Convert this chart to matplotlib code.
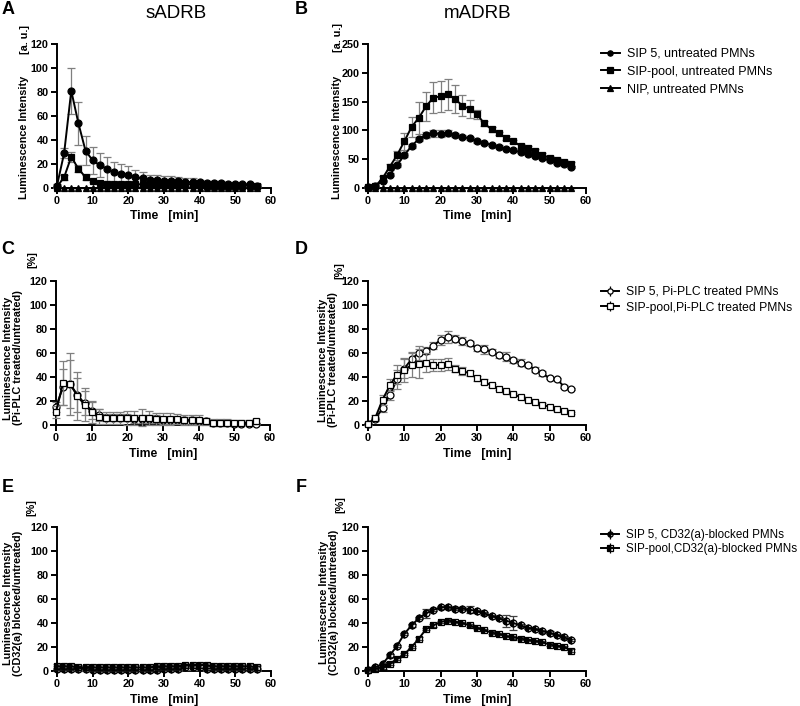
import numpy as np
import matplotlib
matplotlib.use("Agg")
import matplotlib.pyplot as plt
from matplotlib.lines import Line2D
from matplotlib.legend_handler import HandlerTuple

REG = ['Liberation Sans', 'DejaVu Sans']
plt.rcParams['font.family'] = REG

time = [0, 2, 4, 6, 8, 10, 12, 14, 16, 18, 20, 22, 24, 26, 28, 30, 32, 34, 36, 38, 40, 42, 44, 46, 48, 50, 52, 54, 56]

# Panel A (sADRB, untreated)
a_sip5 = [2, 29, 81, 54, 31, 23, 19, 16, 13, 12, 11, 9, 8, 7, 7, 6, 6, 6, 5, 5, 5, 4, 4, 4, 3, 3, 3, 3, 2]
a_sip5_err = [1, 4, 19, 18, 12, 11, 10, 10, 9, 8, 7, 6, 5, 4, 4, 4, 4, 3, 3, 3, 2, 2, 2, 2, 1, 1, 1, 1, 1]
a_pool = [1, 9, 26, 16, 9, 6, 4, 3, 3, 3, 3, 3, 3, 3, 3, 3, 3, 3, 3, 3, 3, 2, 2, 2, 2, 2, 2, 2, 2]
a_pool_err = [0.5, 2, 4, 3, 2, 1, 1, 1, 1, 1, 1, 1, 1, 1, 1, 1, 1, 1, 1, 1, 1, 1, 1, 1, 1, 1, 1, 1, 1]
a_nip = [0] * 29

# Panel B (mADRB, untreated)
b_sip5 = [2, 3, 12, 23, 40, 57, 73, 85, 92, 95, 94, 96, 92, 89, 86, 81, 78, 75, 72, 68, 66, 62, 59, 56, 52, 48, 44, 41, 37]
b_sip5_err = [1, 1, 2, 3, 3, 4, 4, 4, 5, 6, 6, 5, 4, 3, 3, 3, 2, 2, 2, 2, 2, 2, 2, 2, 2, 2, 2, 2, 2]
b_pool = [2, 3, 17, 37, 57, 81, 106, 122, 142, 157, 159, 163, 154, 143, 137, 128, 112, 102, 95, 87, 81, 73, 70, 64, 58, 52, 49, 46, 42]
b_pool_err = [1, 2, 4, 5, 8, 15, 18, 28, 25, 27, 27, 27, 24, 18, 15, 8, 5, 4, 3, 3, 3, 3, 3, 3, 3, 3, 3, 3, 3]
b_nip = [0] * 29

# Panel C (sADRB, Pi-PLC treated / untreated, %)
c_sip5 = [15, 32, 34, 25, 18, 12, 8, 6, 6, 6, 6, 5, 5, 5, 5, 4, 4, 4, 4, 4, 3, 3, 2, 2, 2, 1, 1, 1, 1]
c_sip5_err = [4, 15, 20, 14, 10, 7, 5, 3, 3, 3, 3, 3, 3, 3, 3, 3, 3, 3, 3, 3, 2, 2, 2, 2, 2, 2, 1, 1, 1]
c_pool = [11, 35, 34, 24, 17, 11, 7, 6, 6, 6, 6, 6, 6, 6, 5, 5, 5, 5, 4, 4, 4, 3, 2, 2, 2, 2, 2, 2, 3]
c_pool_err = [5, 18, 26, 20, 14, 9, 6, 5, 5, 5, 6, 6, 7, 6, 5, 5, 5, 4, 4, 4, 4, 3, 3, 3, 3, 2, 2, 2, 2]

# Panel D (mADRB, Pi-PLC treated / untreated, %)
d_sip5 = [1, 5, 14, 25, 38, 47, 55, 60, 62, 66, 71, 73, 72, 70, 68, 64, 63, 61, 58, 57, 54, 52, 50, 46, 43, 39, 38, 32, 30]
d_sip5_err = [1, 2, 3, 4, 8, 8, 6, 6, 3, 3, 4, 5, 3, 3, 2, 2, 4, 2, 2, 4, 2, 3, 2, 2, 2, 1, 1, 1, 1]
d_pool = [1, 6, 21, 33, 42, 46, 50, 51, 52, 50, 50, 51, 47, 45, 43, 39, 36, 33, 30, 28, 26, 23, 21, 19, 17, 15, 13, 12, 10]
d_pool_err = [1, 2, 4, 5, 8, 10, 10, 12, 8, 5, 5, 5, 3, 3, 2, 2, 2, 1, 1, 1, 1, 1, 1, 1, 1, 1, 1, 1, 1]

# Panel E (sADRB, CD32(a) blocked / untreated, %)
e_sip5 = [2, 2, 2, 2, 2, 1, 1, 1, 1, 1, 1, 1, 1, 1, 1, 2, 2, 2, 3, 3, 3, 2, 2, 2, 2, 2, 2, 2, 2]
e_sip5_err = [2, 2, 2, 2, 2, 2, 2, 2, 2, 2, 2, 2, 2, 2, 2, 2, 2, 2, 2, 2, 2, 2, 2, 2, 2, 2, 2, 2, 2]
e_pool = [4, 4, 4, 3, 3, 3, 3, 3, 3, 3, 3, 3, 3, 3, 4, 4, 4, 4, 5, 5, 5, 5, 4, 4, 4, 4, 4, 4, 3]
e_pool_err = [2, 2, 2, 2, 2, 2, 2, 2, 2, 2, 2, 2, 2, 2, 2, 2, 2, 2, 2, 2, 2, 2, 2, 2, 2, 2, 2, 2, 2]

# Panel F (mADRB, CD32(a) blocked / untreated, %)
f_sip5 = [1, 3, 6, 13, 21, 31, 38, 44, 48, 51, 53, 53, 52, 52, 51, 50, 48, 46, 44, 42, 40, 38, 36, 35, 33, 32, 30, 28, 26]
f_sip5_err = [1, 1, 1, 1, 1, 1, 1, 1, 4, 1, 1, 1, 1, 1, 3, 1, 1, 1, 1, 5, 6, 1, 1, 1, 1, 1, 1, 1, 1]
f_pool = [1, 2, 3, 6, 10, 14, 20, 27, 35, 38, 41, 42, 41, 40, 38, 36, 34, 32, 31, 29, 28, 27, 26, 25, 24, 22, 21, 20, 17]
f_pool_err = [1, 1, 1, 1, 1, 1, 1, 1, 1, 1, 1, 1, 1, 1, 1, 1, 1, 1, 1, 1, 1, 1, 1, 1, 1, 1, 1, 1, 1]

W, H = 800, 706
fig = plt.figure(figsize=(W / 100, H / 100), dpi=100)


def make_ax(left, right, top, bottom):
    return fig.add_axes([left / W, 1 - bottom / H, (right - left) / W, (bottom - top) / H])


def ftext(x, y, s, **kw):
    return fig.text(x / W, 1 - y / H, s, **kw)


axA = make_ax(57, 271, 44, 188)
axB = make_ax(368, 586, 44, 188)
axC = make_ax(56, 270, 281, 425)
axD = make_ax(368, 586, 281, 425)
axE = make_ax(57, 271, 527, 671)
axF = make_ax(368, 586, 527, 671)

GRAY = '#7f7f7f'
MS = 5


def series(ax, y, err, marker, fill='full', ecolor=GRAY, mfc='black', z=3):
    ax.errorbar(time, y, yerr=err, fmt='none', ecolor=ecolor, elinewidth=0.9,
                capsize=3, capthick=0.9, clip_on=False, zorder=z - 1)
    ax.plot(time, y, color='black', lw=1.4, marker=marker, ms=MS, mfc=mfc,
            mec='black', mew=0.9, fillstyle=fill, clip_on=False, zorder=z)


def style(ax, ymax, ystep):
    ax.set_xlim(0, 60)
    ax.set_ylim(0, ymax)
    ax.set_xticks(range(0, 61, 10))
    ax.set_yticks(range(0, ymax + 1, ystep))
    for s in ['top', 'right']:
        ax.spines[s].set_visible(False)
    for s in ['left', 'bottom']:
        ax.spines[s].set_linewidth(1.4)
    ax.tick_params(width=1.4, length=4, labelsize=7.8, pad=2)
    for lab in ax.get_xticklabels() + ax.get_yticklabels():
        lab.set_fontweight('bold')
    ax.set_xlabel('Time   [min]', fontsize=8.7, fontweight='bold', labelpad=3)


# A
series(axA, a_sip5, a_sip5_err, 'o', z=5)
series(axA, a_pool, a_pool_err, 's', z=4)
series(axA, a_nip, [0] * 29, '^', z=3)
style(axA, 120, 20)
# B
series(axB, b_sip5, b_sip5_err, 'o', z=5)
series(axB, b_pool, b_pool_err, 's', z=4)
series(axB, b_nip, [0] * 29, '^', z=3)
style(axB, 250, 50)
# C
series(axC, c_sip5, c_sip5_err, 'o', mfc='white', z=4)
series(axC, c_pool, c_pool_err, 's', mfc='white', z=5)
style(axC, 120, 20)
# D
series(axD, d_sip5, d_sip5_err, 'o', mfc='white', z=4)
series(axD, d_pool, d_pool_err, 's', mfc='white', z=5)
style(axD, 120, 20)
# E
series(axE, e_sip5, e_sip5_err, 'o', fill='left', mfc='black', z=4)
series(axE, e_pool, e_pool_err, 's', fill='left', mfc='black', z=5)
style(axE, 120, 20)
# F
series(axF, f_sip5, f_sip5_err, 'o', fill='left', mfc='black', ecolor='#404040', z=4)
series(axF, f_pool, f_pool_err, 's', fill='left', mfc='black', ecolor='#404040', z=5)
style(axF, 120, 20)

# y labels (placed in figure pixels)
lab_kw = dict(fontsize=7.8, fontweight='bold', rotation=90, ha='center', va='center')
ftext(24, 137, 'Luminescence Intensity', **lab_kw)
ftext(25, 39, '[a. u.]', **lab_kw)
ftext(337, 137, 'Luminescence Intensity', **lab_kw)
ftext(338, 37, '[a. u.]', **lab_kw)

ftext(13, 358, 'Luminescence Intensity\n(Pi-PLC treated/untreated)', linespacing=0.95, **lab_kw)
ftext(32, 260, '[%]', **lab_kw)
ftext(328, 360, 'Luminescence Intensity\n(Pi-PLC treated/untreated)', linespacing=0.95, **lab_kw)
ftext(339, 271, '[%]', **lab_kw)

ftext(13, 603, 'Luminescence Intensity\n(CD32(a) blocked/untreated)', linespacing=0.95, **lab_kw)
ftext(31, 508, '[%]', **lab_kw)
ftext(329, 602, 'Luminescence Intensity\n(CD32(a) blocked/untreated)', linespacing=0.95, **lab_kw)
ftext(340, 505, '[%]', **lab_kw)

# titles and panel letters
ftext(176, 14, 'sADRB', fontsize=13.5, ha='center', va='center')
ftext(478, 14, 'mADRB', fontsize=13.5, ha='center', va='center')
for letter, x, y in [('A', 8, 10), ('B', 301, 10), ('C', 8, 250), ('D', 301, 250), ('E', 8, 487), ('F', 301, 487)]:
    ftext(x, y, letter, fontsize=13, fontweight='bold', ha='center', va='center')


# legends
def handle(marker, fill='full', mfc='black', err=False):
    ln = Line2D([], [], color='black', lw=1.4, marker=marker, ms=3.8, mfc=mfc,
                mec='black', mew=0.9, fillstyle=fill)
    if err:
        bar = Line2D([], [], color='black', ls='None', marker='|', ms=7, mew=0.9)
        return (bar, ln)
    return ln


def legend(handles, labels, y_top, size, spacing):
    fig.legend(handles, labels, frameon=False, handlelength=1.5, handletextpad=0.6,
               loc='upper left', borderaxespad=0, borderpad=0,
               prop={'size': size}, labelspacing=spacing,
               handler_map={tuple: HandlerTuple(ndivide=1)},
               bbox_to_anchor=(601 / W, 1 - y_top / H))


legend([handle('o'), handle('s'), handle('^')],
       ['SIP 5, untreated PMNs', 'SIP-pool, untreated PMNs', 'NIP, untreated PMNs'],
       48, 9, 0.45)
legend([handle('o', mfc='white', err=True), handle('s', mfc='white', err=True)],
       ['SIP 5, Pi-PLC treated PMNs', 'SIP-pool,Pi-PLC treated PMNs'],
       286, 8.7, 0.3)
legend([handle('o', fill='left', err=True), handle('s', fill='left', err=True)],
       ['SIP 5, CD32(a)-blocked PMNs', 'SIP-pool,CD32(a)-blocked PMNs'],
       529, 8.4, 0.2)

fig.savefig('out.png', dpi=100)
